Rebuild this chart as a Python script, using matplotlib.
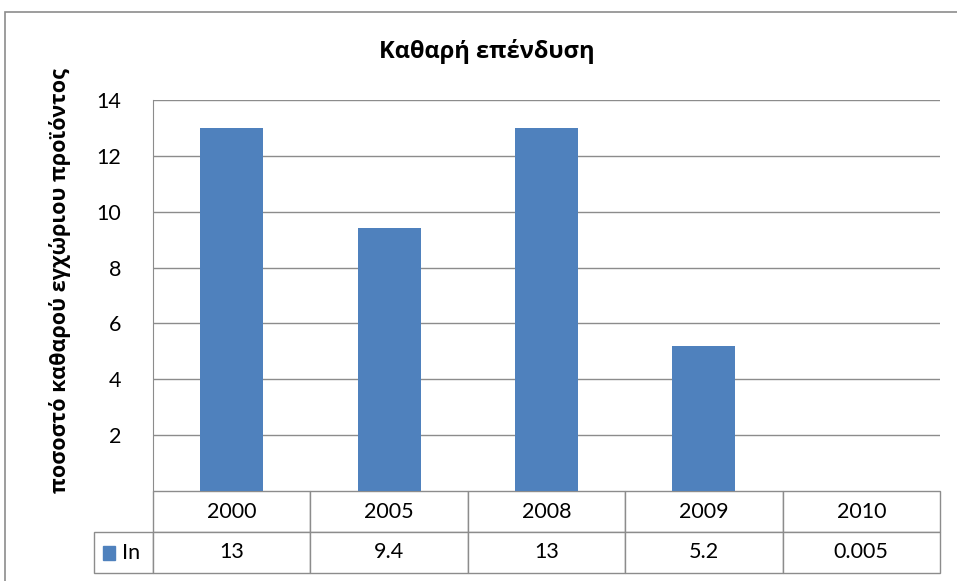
import matplotlib.pyplot as plt
from matplotlib.patches import Rectangle
from matplotlib.table import Table

years = ["2000", "2005", "2008", "2009", "2010"]
values = [13, 9.4, 13, 5.2, 0.005]
value_labels = ["13", "9.4", "13", "5.2", "0.005"]
series_name = "In"
y_ticks = [2, 4, 6, 8, 10, 12, 14]

title = "Καθαρή επένδυση"
y_label = "ποσοστό καθαρού εγχώριου προϊόντος"

bar_color = "#4F81BD"
line_color = "#8C8C8C"
greek_font = ["Open Sans", "DejaVu Sans"]
num_font = ["Lato", "DejaVu Sans"]

W, H = 957, 581
fig = plt.figure(figsize=(W / 100, H / 100), dpi=100)

# plot area in pixels: x 153..940, y 100..491
ax = fig.add_axes([153 / W, 1 - 491 / H, (940 - 153) / W, (491 - 100) / H])

x = list(range(len(years)))
ax.bar(x, values, width=0.4, color=bar_color, zorder=3)
ax.set_xlim(-0.5, len(years) - 0.5)
ax.set_ylim(0, 14)
ax.set_yticks(y_ticks)
ax.set_xticks([])
ax.grid(axis="y", color=line_color, linewidth=1, zorder=0)
for side in ["top", "right", "bottom"]:
    ax.spines[side].set_visible(False)
ax.spines["left"].set_color(line_color)
ax.tick_params(axis="y", length=0, pad=23, labelsize=15.5)
for lab in ax.get_yticklabels():
    lab.set_family(num_font)

# data table under the plot (bbox covers the data cells, label column sits left of it)
tbl_h = (573 - 491) / (491 - 100)
lab_w = (153 - 94) / (940 - 153)
table = Table(ax, bbox=[0, -tbl_h, 1, tbl_h])
col_w = 1 / len(years)
for j, yr in enumerate(years):
    c = table.add_cell(0, j, col_w, 1, text=yr, loc="center", edgecolor=line_color)
    c.get_text().set_family(num_font)
    c = table.add_cell(1, j, col_w, 1, text=value_labels[j], loc="center", edgecolor=line_color)
    c.get_text().set_family(num_font)
table.add_cell(1, -1, lab_w, 1, text="", edgecolor=line_color)
table.auto_set_font_size(False)
table.set_fontsize(15.5)
ax.add_table(table)

# legend key inside the row label cell
ax.add_patch(Rectangle((-0.0635, -0.176), 0.0153, 0.035, transform=ax.transAxes,
                       color=bar_color, clip_on=False))
ax.text(-0.040, -0.158, series_name, transform=ax.transAxes, ha="left", va="center",
        fontsize=15.5, family=num_font)

# outer chart frame
fig.patches.append(Rectangle((5 / W, -0.1), 1.2, 1 - 12 / H + 0.1, transform=fig.transFigure,
                             fill=False, edgecolor=line_color, linewidth=1.2))

fig.text(487 / W, 1 - 52 / H, title, ha="center", va="center", fontsize=17,
         fontweight="bold", family=greek_font)
fig.text(60 / W, 1 - 281 / H, y_label, ha="center", va="center", rotation=90,
         fontsize=15.5, fontweight="bold", family=greek_font)

fig.savefig("out.png", dpi=100)
